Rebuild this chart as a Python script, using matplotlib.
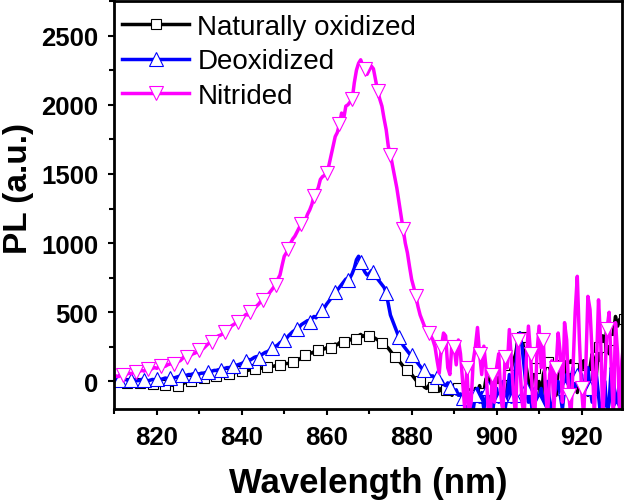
import numpy as np
import matplotlib
matplotlib.use("Agg")
import matplotlib.pyplot as plt
from matplotlib.ticker import MultipleLocator

plt.rcParams['font.family'] = ['Liberation Sans', 'DejaVu Sans']

# wavelength grid (nm), 0.5 nm step
wavelength = np.arange(810, 930.25, 0.5)

# PL intensity (a.u.), one row = 5 nm
naturally_oxidized = [
    0, 5, 0, -5, 0, -5, -10, -5, -10, -10,
    -10, -15, -10, -15, -20, -15, -20, -25, -20, -25,
    -25, -20, -25, -30, -25, -30, -30, -25, -30, -30,
    -30, -25, -20, -10, -5, 0, 5, 10, 10, 15,
    20, 20, 25, 30, 30, 35, 35, 40, 40, 45,
    45, 50, 50, 55, 55, 60, 60, 65, 70, 70,
    75, 75, 80, 80, 85, 85, 90, 90, 95, 95,
    100, 100, 105, 105, 110, 110, 115, 115, 120, 120,
    125, 130, 130, 135, 140, 145, 150, 160, 170, 180,
    190, 200, 210, 205, 215, 220, 225, 230, 240, 235,
    245, 250, 240, 260, 270, 265, 280, 290, 285, 300,
    295, 300, 310, 320, 310, 330, 340, 325, 335, 320,
    330, 340, 320, 310, 300, 290, 280, 270, 255, 240,
    220, 200, 180, 160, 150, 130, 110, 100, 80, 60,
    50, 30, 10, -10, 0, -20, -40, -50, -30, -60,
    -40, -60, -30, -70, -50, -90, -60, -40, -80, -100,
    -60, -90, -50, -100, -70, -120, -80, -60, -100, -130,
    -50, -100, -30, -150, -80, 20, -60, 40, -100, -130,
    -50, 30, -80, -200, -150, -50, 50, 100, 150, 200,
    300, 350, 320, 200, 100, 0, -100, 50, 100, -50,
    0, -150, 50, 100, 140, 100, 50, 0, -100, 80,
    120, 160, 100, 50, -50, 150, 100, 15, -80, 0,
    100, 150, 50, -100, 100, 200, 150, 50, 250, 150,
    330, 250, 400, 200, 300, 350, 470, 400, 450, 420,
    450,
]

deoxidized = [
    10, 15, 10, 5, 10, 15, 10, 5, 10, 15,
    10, 5, 10, 15, 10, 10, 5, 10, 15, 10,
    15, 20, 15, 20, 25, 20, 25, 30, 25, 30,
    35, 40, 45, 40, 45, 50, 50, 55, 50, 55,
    55, 60, 60, 65, 70, 70, 75, 80, 80, 85,
    85, 90, 95, 100, 100, 105, 110, 115, 120, 125,
    130, 140, 150, 160, 155, 165, 175, 180, 170, 190,
    200, 210, 215, 225, 240, 250, 255, 265, 280, 290,
    300, 310, 330, 345, 360, 370, 380, 390, 410, 420,
    430, 440, 430, 455, 470, 460, 490, 510, 520, 535,
    560, 580, 600, 620, 650, 660, 680, 700, 720, 740,
    730, 750, 780, 820, 880, 905, 860, 820, 790, 770,
    780, 800, 790, 760, 740, 720, 700, 680, 640, 560,
    480, 440, 400, 360, 320, 290, 260, 240, 220, 200,
    190, 170, 150, 130, 110, 90, 80, 60, 50, 40,
    40, 20, 30, 0, 10, -20, -30, -10, -40, -60,
    -80, -60, -100, -90, -120, -100, -150, -230, -110, -200,
    -100, -50, -150, -80, -200, -120, -50, -150, -250, -100,
    -50, -150, -100, 0, -200, -100, 50, -150, -100, 100,
    300, 350, 250, 100, -50, -150, -100, -250, -50, -100,
    -150, -50, -200, -100, 0, -150, -250, -100, -50, 0,
    -100, -200, -50, 50, -100, 0, 100, -50, 50, 0,
    50, -100, 0, 100, -50, -150, 0, 50, -100, -250,
    -200, 0, -250, -150, 100, 50, -200, -100, 0, 100,
    150,
]

nitrided = [
    30, 40, 35, 45, 50, 45, 55, 60, 55, 65,
    70, 65, 75, 80, 75, 85, 90, 85, 95, 100,
    95, 105, 110, 115, 110, 120, 125, 130, 125, 140,
    145, 150, 165, 185, 175, 180, 190, 200, 205, 215,
    225, 235, 240, 255, 270, 280, 285, 300, 320, 330,
    335, 345, 360, 380, 375, 400, 410, 420, 430, 445,
    450, 470, 485, 480, 500, 515, 530, 545, 560, 580,
    590, 600, 620, 640, 660, 680, 700, 740, 770, 840,
    905, 930, 960, 1000, 1030, 1050, 1080, 1110, 1140, 1160,
    1170, 1210, 1240, 1280, 1340, 1370, 1400, 1460, 1480, 1490,
    1510, 1560, 1630, 1700, 1770, 1800, 1860, 1940, 1900, 1990,
    2000, 2020, 2040, 2160, 2250, 2300, 2325, 2280, 2255, 2220,
    2250, 2280, 2260, 2180, 2100, 2040, 1990, 1900, 1820, 1700,
    1640, 1560, 1480, 1400, 1300, 1200, 1100, 1000, 930, 830,
    737, 680, 615, 540, 480, 440, 400, 370, 350, 330,
    300, 250, 150, 60, 250, 350, 330, 100, 50, 280,
    250, 120, 300, 200, 0, -200, 100, -220, -150, 150,
    250, 390, 200, 50, 255, 100, -200, -250, 50, -150,
    100, 200, -100, -220, 180, 100, 375, 150, -100, -250,
    300, 100, -150, -250, 150, 400, 200, -150, -250, 200,
    400, 100, 300, -50, -250, 50, 150, -200, 100, 350,
    200, -150, 425, 300, -100, -250, 100, 500, 760, 300,
    -50, -250, 100, 615, 520, 200, -250, 100, 590, 300,
    -250, 50, 380, 500, 100, -250, 425, 200, -250, 150,
    300,
]

labels = ['Naturally oxidized', 'Deoxidized', 'Nitrided']
colors = ['black', '#0000ff', '#ff00ff']
markers = ['s', '^', 'v']

fig = plt.figure(figsize=(6.25, 5.02), dpi=100)
ax = fig.add_axes([0.183, 0.183, 0.812, 0.813])

series = [naturally_oxidized, deoxidized, nitrided]
msizes = [7, 9.5, 9.5]
for i, (y, lab, c, m) in enumerate(zip(series, labels, colors, markers)):
    ax.plot(wavelength, y, color=c, lw=2.5, marker=m, markersize=msizes[i],
            markerfacecolor='white', markeredgecolor=c, markeredgewidth=0.8,
            markevery=(2 * i, 6), label=lab)

ax.set_xlim(810, 929.5)
ax.set_ylim(-200, 2750)
ax.xaxis.set_major_locator(MultipleLocator(20))
ax.xaxis.set_minor_locator(MultipleLocator(10))
ax.yaxis.set_major_locator(MultipleLocator(500))
ax.yaxis.set_minor_locator(MultipleLocator(250))
ax.tick_params(which='both', direction='out', width=1.5, labelsize=18.5, pad=7)
ax.tick_params(which='major', length=4.5)
ax.tick_params(which='minor', length=3.5)
for lab in ax.get_xticklabels() + ax.get_yticklabels():
    lab.set_fontweight('bold')
for s in ax.spines.values():
    s.set_linewidth(2)

ax.set_xlabel('Wavelength (nm)', fontsize=25, fontweight='bold', labelpad=12)
ax.set_ylabel('PL (a.u.)', fontsize=24, fontweight='bold')
ax.yaxis.set_label_coords(-0.158, 0.544)

ax.legend(loc='upper left', bbox_to_anchor=(0.016, 0.968), frameon=False,
          fontsize=20, handlelength=2.4, handletextpad=0.3, labelspacing=0.3,
          borderpad=0, borderaxespad=0)

fig.savefig('out.png', dpi=100)
